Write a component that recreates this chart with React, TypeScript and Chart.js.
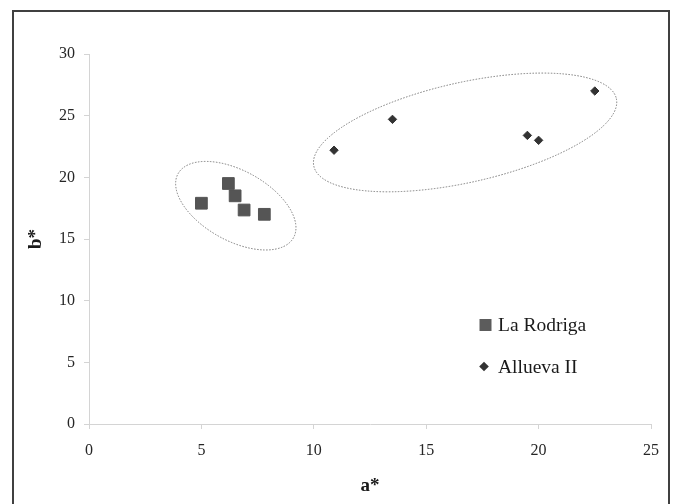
import React, { useEffect, useRef } from 'react';
import { Chart, registerables } from 'chart.js';

Chart.register(...registerables);

// ---- data ----
const seriesNames = ['La Rodriga', 'Allueva II'];
const laRodrigaA = [5.0, 6.2, 6.5, 6.9, 7.8];
const laRodrigaB = [17.9, 19.5, 18.5, 17.35, 17.0];
const alluevaA = [10.9, 13.5, 19.5, 20.0, 22.5];
const alluevaB = [22.2, 24.7, 23.4, 23.0, 27.0];
const xTicks = [0, 5, 10, 15, 20, 25];
const yTicks = [0, 5, 10, 15, 20, 25, 30];
const xTitle = 'a*';
const yTitle = 'b*';
// centres of the group outlines, in data units (a*, b*)
const groupCentreA = [6.53, 16.73];
const groupCentreB = [17.7, 23.64];

// ---- styles ----
const FONT = '"Liberation Serif", "Times New Roman", serif';
const outlineShapes = [
  { rx: 66, ry: 35, rotDeg: 29 },
  { rx: 155, ry: 50, rotDeg: -12.6 },
];
const seriesColors = ['#555555', '#333333'];

const outlinePlugin = {
  id: 'groupOutlines',
  afterDatasetsDraw(chart: any) {
    const { ctx, scales } = chart;
    ctx.save();
    ctx.strokeStyle = '#7a7a7a';
    ctx.lineWidth = 1;
    ctx.setLineDash([1.5, 1.5]);
    groupCentreA.forEach((a, i) => {
      const px = scales.x.getPixelForValue(a);
      const py = scales.y.getPixelForValue(groupCentreB[i]);
      const s = outlineShapes[i];
      ctx.beginPath();
      ctx.ellipse(px, py, s.rx, s.ry, (s.rotDeg * Math.PI) / 180, 0, Math.PI * 2);
      ctx.stroke();
    });
    ctx.restore();
  },
};

const legendPlugin = {
  id: 'insideLegend',
  afterDatasetsDraw(chart: any) {
    const { ctx, chartArea } = chart;
    const markerX = chartArea.left + 396.5;
    const textX = chartArea.left + 409;
    const baselines = [chartArea.top + 277, chartArea.top + 318.5];
    const markerY = [chartArea.top + 271, chartArea.top + 312.5];
    ctx.save();
    chart.data.datasets.forEach((ds: any, i: number) => {
      ctx.fillStyle = i === 0 ? '#5c5c5c' : '#333333';
      ctx.beginPath();
      if (ds.pointStyle === 'rect') {
        ctx.rect(markerX - 6, markerY[i] - 6, 12, 12);
      } else {
        const r = 4.8;
        const cx = markerX - 1.5;
        ctx.moveTo(cx - r, markerY[i]);
        ctx.lineTo(cx, markerY[i] - r);
        ctx.lineTo(cx + r, markerY[i]);
        ctx.lineTo(cx, markerY[i] + r);
        ctx.closePath();
      }
      ctx.fill();
      ctx.fillStyle = '#1a1a1a';
      ctx.font = `19.5px ${FONT}`;
      ctx.textBaseline = 'alphabetic';
      ctx.textAlign = 'left';
      ctx.fillText(ds.label, textX, baselines[i]);
    });
    ctx.restore();
  },
};

export default function App() {
  const ref = useRef<HTMLCanvasElement | null>(null);

  useEffect(() => {
    document.body.style.margin = '0';
    const canvas = ref.current;
    if (!canvas) return;
    const axisColor = '#d4d4d4';
    const tickColor = '#262626';
    const chart = new Chart(canvas, {
      type: 'scatter',
      data: {
        datasets: [
          {
            label: seriesNames[0],
            data: laRodrigaA.map((a, i) => ({ x: a, y: laRodrigaB[i] })),
            pointStyle: 'rect',
            pointRadius: 8.3,
            backgroundColor: seriesColors[0],
            borderColor: seriesColors[0],
            borderWidth: 1,
          },
          {
            label: seriesNames[1],
            data: alluevaA.map((a, i) => ({ x: a, y: alluevaB[i] })),
            pointStyle: 'rectRot',
            pointRadius: 4.2,
            backgroundColor: seriesColors[1],
            borderColor: seriesColors[1],
            borderWidth: 1,
          },
        ],
      },
      options: {
        responsive: false,
        animation: false,
        events: [],
        layout: { padding: { left: 25, top: 54, right: 25, bottom: 7 } },
        plugins: {
          legend: { display: false },
          tooltip: { enabled: false },
        },
        scales: {
          x: {
            type: 'linear',
            min: xTicks[0],
            max: xTicks[xTicks.length - 1],
            afterFit: (s: any) => {
              s.height = 73;
            },
            afterBuildTicks: (s: any) => {
              s.ticks = xTicks.map((v) => ({ value: v }));
            },
            border: { display: true, color: axisColor, width: 1 },
            grid: { drawOnChartArea: false, drawTicks: true, tickLength: 5, color: axisColor },
            ticks: {
              padding: 12,
              color: tickColor,
              font: { family: FONT, size: 16 },
            },
            title: {
              display: true,
              text: xTitle,
              color: '#1a1a1a',
              padding: { top: 0, bottom: 0 },
              font: { family: FONT, size: 19, weight: 'bold' },
            },
          },
          y: {
            type: 'linear',
            min: yTicks[0],
            max: yTicks[yTicks.length - 1],
            afterFit: (s: any) => {
              s.width = 64;
            },
            afterBuildTicks: (s: any) => {
              s.ticks = yTicks.map((v) => ({ value: v }));
            },
            border: { display: true, color: axisColor, width: 1 },
            grid: { drawOnChartArea: false, drawTicks: true, tickLength: 5, color: axisColor },
            ticks: {
              padding: 9,
              color: tickColor,
              font: { family: FONT, size: 16 },
            },
            title: {
              display: true,
              text: yTitle,
              color: '#1a1a1a',
              padding: { top: 0, bottom: 0 },
              font: { family: FONT, size: 19, weight: 'bold' },
            },
          },
        },
      } as any,
      plugins: [outlinePlugin, legendPlugin],
    });
    return () => chart.destroy();
  }, []);

  return (
    <div style={{ position: 'relative', width: 676, height: 504, overflow: 'hidden', background: '#fff' }}>
      <canvas ref={ref} width={676} height={504} style={{ display: 'block' }} />
      <div
        style={{
          position: 'absolute',
          left: 12,
          top: 10,
          width: 658,
          height: 520,
          boxSizing: 'border-box',
          border: '2px solid #404040',
          pointerEvents: 'none',
        }}
      />
    </div>
  );
}
